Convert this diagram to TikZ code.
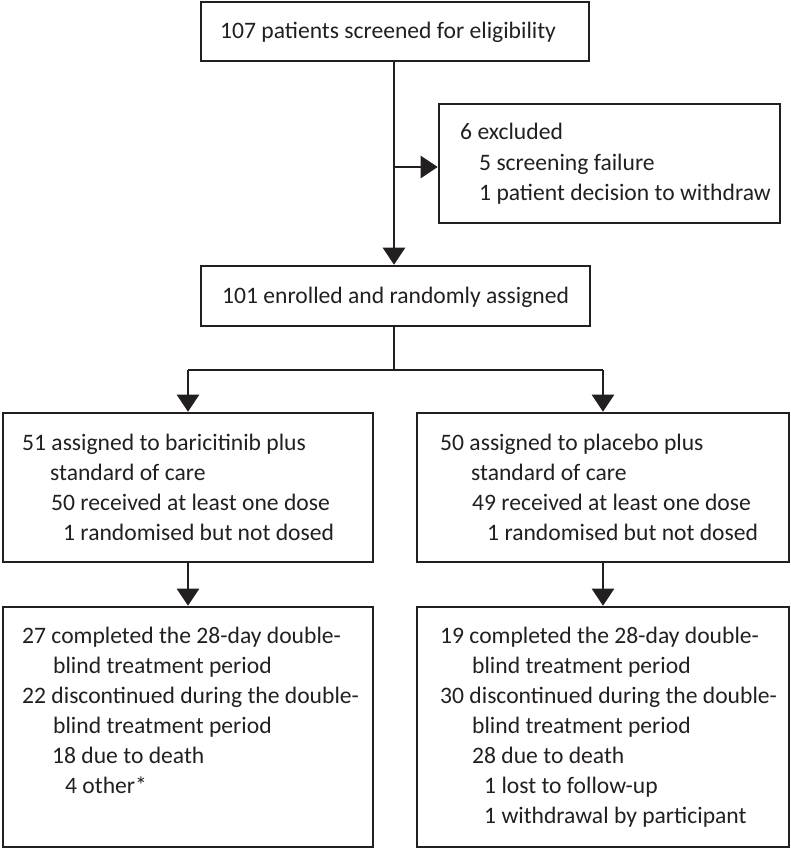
\documentclass[tikz,border=0pt]{standalone}
\usepackage{fontspec}
\setmainfont{Carlito}
\usetikzlibrary{arrows.meta}
\definecolor{ink}{HTML}{231F20}
\begin{document}
\begin{tikzpicture}[x=1pt,y=-1pt,
  box/.style={draw=ink,line width=2.6pt,inner sep=0pt,rectangle},
  txt/.style={anchor=base west,inner sep=0pt,text=ink,font=\fontsize{23.6}{28}\selectfont},
  link/.style={draw=ink,line width=2.6pt},
  arr/.style={link,-{Triangle[length=17pt,width=22pt]}}]
\useasboundingbox (0,0) rectangle (791,849);
% boxes
\node[box,minimum width=388pt,minimum height=59pt] (top) at (395,31.5) {};
\node[box,minimum width=341pt,minimum height=119pt] (excl) at (609.5,163.5) {};
\node[box,minimum width=389pt,minimum height=60pt] (enr) at (395.5,296) {};
\node[box,minimum width=370pt,minimum height=149pt] (l2) at (188,487.5) {};
\node[box,minimum width=372pt,minimum height=149pt] (r2) at (603,487.5) {};
\node[box,minimum width=370pt,minimum height=240pt] (l3) at (188,727) {};
\node[box,minimum width=372pt,minimum height=240pt] (r3) at (603,727) {};
% texts
\node[txt] (t1) at (220,38) {107 patients screened for eligibility};
\node[txt] (e1) at (460,139) {6 excluded};
\node[txt] (e2) at (479,170) {5 screening failure};
\node[txt] (e3) at (479,200) {1 patient decision to withdraw};
\node[txt] (n1) at (222,303) {101 enrolled and randomly assigned};
\node[txt] (a1) at (22,450) {51 assigned to baricitinib plus};
\node[txt] (a2) at (50,480) {standard of care};
\node[txt] (a3) at (51,510) {50 received at least one dose};
\node[txt] (a4) at (63,540) {1 randomised but not dosed};
\node[txt] (b1) at (440,450) {50 assigned to placebo plus};
\node[txt] (b2) at (471,480) {standard of care};
\node[txt] (b3) at (472,510) {49 received at least one dose};
\node[txt] (b4) at (487,540) {1 randomised but not dosed};
\node[txt] (c1) at (22,643) {27 completed the 28-day double-};
\node[txt] (c2) at (53,673) {blind treatment period};
\node[txt] (c3) at (22,703) {22 discontinued during the double-};
\node[txt] (c4) at (53,733) {blind treatment period};
\node[txt] (c5) at (52,763) {18 due to death};
\node[txt] (c6) at (65,793) {4 other*};
\node[txt] (d1) at (440,643) {19 completed the 28-day double-};
\node[txt] (d2) at (472,673) {blind treatment period};
\node[txt] (d3) at (440,703) {30 discontinued during the double-};
\node[txt] (d4) at (472,733) {blind treatment period};
\node[txt] (d5) at (472,763) {28 due to death};
\node[txt] (d6) at (484,793) {1 lost to follow-up};
\node[txt] (d7) at (484,823) {1 withdrawal by participant};
% connectors
\coordinate (j1) at (394,167);
\coordinate (br) at (394,370);
\draw[arr] (top.south -| j1) -- (enr.north -| j1);
\draw[arr] (j1) -- (j1 -| excl.west);
\draw[link] (enr.south -| br) -- (br);
\draw[link] (l2.north |- br) -- (r2.north |- br);
\draw[arr] (l2.north |- br) -- (l2.north);
\draw[arr] (r2.north |- br) -- (r2.north);
\draw[arr] (l2.south) -- (l3.north);
\draw[arr] (r2.south) -- (r3.north);
\end{tikzpicture}
\end{document}
